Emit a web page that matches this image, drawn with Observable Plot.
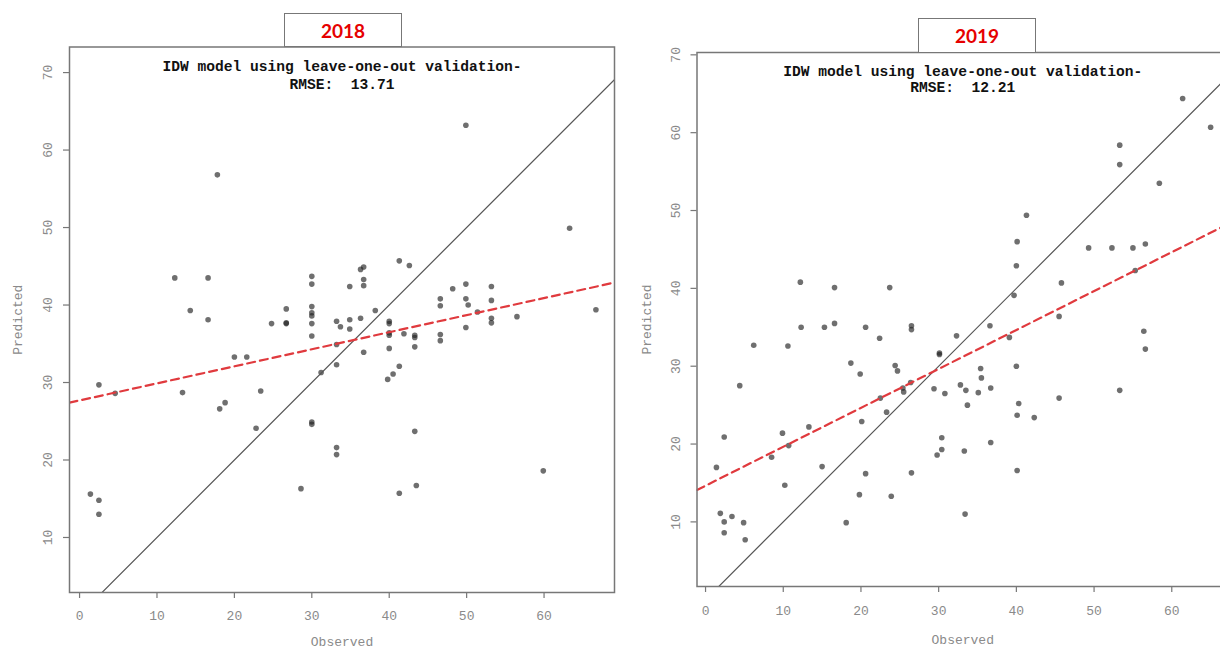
<!DOCTYPE html>
<html>
<head>
<meta charset="utf-8">
<script src="https://cdn.jsdelivr.net/npm/d3@7"></script>
<script src="https://cdn.jsdelivr.net/npm/@observablehq/plot@0.6"></script>
<style>
  html, body { margin: 0; padding: 0; width: 1220px; height: 650px; overflow: hidden; background: #fff; }
  #wrap { position: relative; width: 1220px; height: 650px; overflow: hidden; }
  .panel { position: absolute; top: 0; }
  .panel svg { max-width: none !important; }
  .yearbox { position: absolute; box-sizing: border-box; border: 1.5px solid #777; background: #fff;
    color: #e60000; font-family: Lato, "Liberation Sans", sans-serif; font-weight: 700; font-size: 19px;
    display: flex; align-items: center; justify-content: center; z-index: 2; }
</style>
</head>
<body>
<div id="wrap"></div>
<script>
// ---- data ----
const years = ["2018", "2019"];
const rmse = ["13.71", "12.21"];
const xTicks = [0, 10, 20, 30, 40, 50, 60];
const yTicks = [10, 20, 30, 40, 50, 60, 70];

const obs2018 = [1.4, 2.5, 2.5, 2.5, 4.6, 12.3, 13.3, 14.3, 16.6, 16.6, 17.8, 18.1, 18.8, 20.0, 21.6, 22.8, 23.4, 24.8,
  26.7, 26.7, 26.7, 28.6, 30, 30, 30, 30, 30, 30, 30, 30, 30, 31.2, 33.2, 33.2, 33.2, 33.2, 33.2, 33.7, 34.9, 34.9, 34.9,
  36.3, 36.3, 36.7, 36.7, 36.7, 36.7, 38.2, 39.8, 40, 40, 40, 40, 40, 40.5, 41.3, 41.3, 41.3, 41.9, 42.6, 43.3, 43.3,
  43.3, 43.3, 43.5, 46.6, 46.6, 46.6, 46.6, 48.2, 49.9, 49.9, 49.9, 49.9, 50.2, 51.4, 53.2, 53.2, 53.2, 53.2, 56.5,
  59.9, 63.3, 66.7];
const pred2018 = [15.6, 14.8, 13.0, 29.7, 28.6, 43.5, 28.7, 39.3, 43.5, 38.1, 56.8, 26.6, 27.4, 33.3, 33.3, 24.1, 28.9, 37.6,
  39.5, 37.7, 37.6, 16.3, 43.7, 42.7, 39.8, 39.0, 38.6, 37.6, 36.0, 24.9, 24.6, 31.3, 34.9, 37.9, 32.3, 21.6, 20.7, 37.2, 38.1, 42.4, 36.9,
  38.3, 44.6, 44.9, 43.3, 42.5, 33.9, 39.3, 30.4, 37.9, 37.6, 36.4, 36.1, 34.4, 31.1, 32.1, 45.7, 15.7, 36.3, 45.1, 36.1, 35.8,
  34.6, 23.7, 16.7, 40.8, 39.9, 36.2, 35.4, 42.1, 63.2, 42.7, 40.8, 37.1, 40.0, 39.1, 42.4, 40.6, 38.3, 37.7, 38.5,
  18.6, 49.9, 39.4];

const obs2019 = [1.4, 1.9, 2.4, 2.4, 2.4, 3.4, 4.4, 4.9, 5.1, 6.2, 8.5, 9.9, 10.2, 10.6, 10.7, 12.2, 12.3, 13.3, 15.0, 15.3,
  16.6, 16.6, 18.7, 18.1, 19.9, 19.8, 20.1, 20.6, 20.6, 22.4, 22.5, 23.3, 23.7, 23.9, 24.4, 24.7, 25.4, 25.5, 26.5, 26.5,
  26.4, 26.5, 29.4, 29.8, 30.1, 30.1, 30.4, 30.4, 30.8, 32.3, 32.8, 33.3, 33.5, 33.4, 33.7, 35.1, 35.4, 35.5, 36.6, 36.7,
  36.7, 39.1, 39.7, 40.0, 40.1, 40.0, 40.1, 40.3, 40.1, 41.3, 42.3, 45.5, 45.8, 45.5, 49.3, 52.3, 53.3, 53.3, 53.3, 55.0,
  55.3, 56.6, 56.4, 56.6, 58.4, 61.4, 65.0];
const pred2019 = [17.0, 11.1, 20.9, 10.0, 8.6, 10.7, 27.5, 9.9, 7.7, 32.7, 18.3, 21.4, 14.7, 32.6, 19.8, 40.8, 35.0, 22.2, 17.1, 35.0,
  35.5, 40.1, 30.4, 9.9, 29.0, 13.5, 22.9, 35.0, 16.2, 33.6, 25.9, 24.1, 40.1, 13.3, 30.1, 29.4, 27.2, 26.7, 35.2, 34.7,
  27.9, 16.3, 27.1, 18.6, 31.7, 31.5, 20.8, 19.3, 26.5, 33.9, 27.6, 19.1, 26.9, 11.0, 25.0, 26.6, 29.7, 28.5, 35.2, 27.2,
  20.2, 33.7, 39.1, 42.9, 46.0, 30.0, 23.7, 25.2, 16.6, 49.4, 23.4, 36.4, 40.7, 25.9, 45.2, 45.2, 58.4, 55.9, 26.9, 45.2,
  42.3, 45.7, 34.5, 32.2, 53.5, 64.4, 60.7];

// fitted (red dashed) line end points, read at the frame edges
const fitX2018 = [-1.3, 69.1];
const fitY2018 = [27.4, 42.9];
const fitX2019 = [-1.1, 67.3];
const fitY2019 = [14.1, 48.3];
// 1:1 reference line
const oneX = [-5, 80];
const oneY = [-5, 80];

function panel(cfg) {
  const pts = cfg.obs.map((o, i) => ({x: o, y: cfg.pred[i]}));
  const fit = cfg.fitX.map((v, i) => ({x: v, y: cfg.fitY[i]}));
  const one = oneX.map((v, i) => ({x: v, y: oneY[i]}));
  const mono = "'Liberation Mono', 'DejaVu Sans Mono', monospace";
  const lab = {fill: "#8a8a8a", fontSize: 13, lineAnchor: "middle", textAnchor: "middle"};
  const ttl = {fill: "#111", fontWeight: "bold", fontSize: 14.6, lineAnchor: "middle", textAnchor: "middle"};
  return Plot.plot({
    width: cfg.width, height: 650,
    marginLeft: cfg.ml, marginRight: cfg.mr, marginTop: cfg.mt, marginBottom: 650 - cfg.fb,
    x: {domain: cfg.xd, axis: null},
    y: {domain: cfg.yd, axis: null},
    style: {fontFamily: mono, fontSize: "13px", color: "#888", background: "transparent", overflow: "visible", maxWidth: "none"},
    marks: [
      Plot.axisX(xTicks, {tickSize: 6, tickFormat: () => "", label: null, stroke: "#777", strokeWidth: 1.2}),
      Plot.axisY(yTicks, {tickSize: 6, tickFormat: () => "", label: null, stroke: "#777", strokeWidth: 1.2}),
      Plot.text(xTicks, {x: d => d, frameAnchor: "bottom", dy: cfg.xtdy, text: d => String(d), ...lab}),
      Plot.text(yTicks, {y: d => d, frameAnchor: "left", dx: cfg.ytdx, rotate: -90, text: d => String(d), ...lab}),
      Plot.text(["Observed"], {frameAnchor: "bottom", dy: cfg.xldy, text: d => d, ...lab}),
      Plot.text(["Predicted"], {frameAnchor: "left", dx: cfg.yldx, rotate: -90, text: d => d, ...lab}),
      Plot.dot(pts, {x: "x", y: "y", r: 2.8, fill: "#222", fillOpacity: 0.65, stroke: "none"}),
      Plot.line(one, {x: "x", y: "y", stroke: "#555", strokeWidth: 1.2, clip: true}),
      Plot.line(fit, {x: "x", y: "y", stroke: "#e03a3e", strokeWidth: 2.2, strokeDasharray: "8,5", clip: true}),
      Plot.frame({stroke: "#777", strokeWidth: 1.5}),
      Plot.text(["IDW model using leave-one-out validation-"], {frameAnchor: "top", dy: cfg.t1, text: d => d, ...ttl}),
      Plot.text(["RMSE:\u00a0 " + cfg.rmse], {frameAnchor: "top", dy: cfg.t2, text: d => d, ...ttl})
    ]
  });
}

const wrap = document.getElementById("wrap");

const p1 = panel({obs: obs2018, pred: pred2018, fitX: fitX2018, fitY: fitY2018, rmse: rmse[0],
  width: 620, ml: 69, mr: 6, mt: 46.5, fb: 592, xd: [-1.3, 69.1], yd: [2.9, 73.3],
  xtdy: 23, ytdx: -22, xldy: 49, yldx: -52, t1: 19, t2: 37});
p1.style.maxWidth = "none";
const d1 = document.createElement("div"); d1.className = "panel"; d1.style.left = "0px"; d1.style.width = "620px";
d1.appendChild(p1); wrap.appendChild(d1);

const p2 = panel({obs: obs2019, pred: pred2019, fitX: fitX2019, fitY: fitY2019, rmse: rmse[1],
  width: 600, ml: 66.5, mr: 2, mt: 52, fb: 586, xd: [-1.1, 67.3], yd: [1.7, 70.3],
  xtdy: 24, ytdx: -21.5, xldy: 53, yldx: -50.5, t1: 19, t2: 35});
p2.style.maxWidth = "none";
const d2 = document.createElement("div"); d2.className = "panel"; d2.style.left = "630px"; d2.style.width = "600px";
d2.appendChild(p2); wrap.appendChild(d2);

const boxes = [{left: 284, top: 13, w: 118, h: 34}, {left: 918, top: 18, w: 118, h: 35}];
years.forEach((yr, i) => {
  const b = document.createElement("div");
  b.className = "yearbox";
  b.style.left = boxes[i].left + "px"; b.style.top = boxes[i].top + "px";
  b.style.width = boxes[i].w + "px"; b.style.height = boxes[i].h + "px";
  b.textContent = yr;
  wrap.appendChild(b);
});
</script>
</body>
</html>
